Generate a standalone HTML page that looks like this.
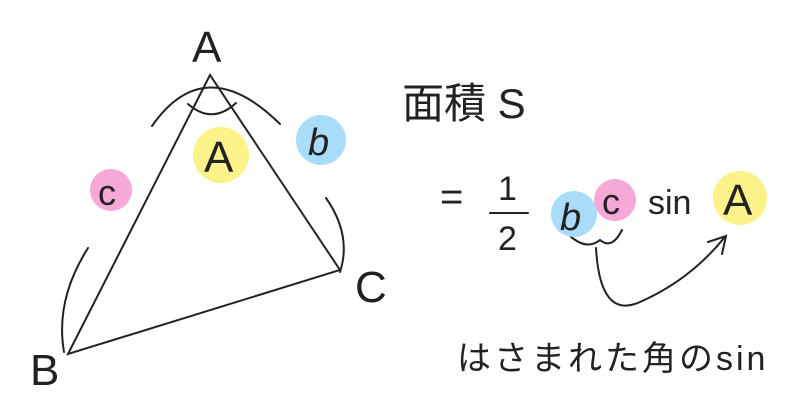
<!DOCTYPE html>
<html><head><meta charset="utf-8"><style>
html,body{margin:0;padding:0;background:#fff;}
svg{display:block;}
text{font-family:"Liberation Sans","Noto Sans CJK JP",sans-serif;fill:#222;}
</style></head><body>
<svg width="797" height="418" viewBox="0 0 797 418" xmlns="http://www.w3.org/2000/svg">
<g fill="none" stroke="#222" stroke-width="2" stroke-linecap="round">
<path d="M210 75 L68 354 L340 270 Z"/>
<path d="M152 126 Q205 50 280 124"/>
<path d="M188 104 Q212 125 236 103"/>
<path d="M88 248 Q55 300 64 352"/>
<path d="M326 198 Q352 235 340 272"/>
<path d="M490 213 L528 213"/>
<path d="M566 232 Q585 252 600 240 Q612 250 622 230"/>
<path d="M596 248 Q600 320 640 302 Q690 280 724 238"/>
<path d="M708 242 L726 236 L722 254"/>
</g>
<circle cx="221" cy="155" r="28" fill="#fcf28a"/>
<circle cx="111" cy="190" r="21" fill="#f6a9d6"/>
<circle cx="321" cy="140" r="25" fill="#a9dcf8"/>
<circle cx="574" cy="214" r="23" fill="#a9dcf8"/>
<circle cx="615" cy="200" r="21" fill="#f6a9d6"/>
<circle cx="740" cy="198" r="27" fill="#fcf28a"/>
<text x="192" y="62" font-size="44">A</text>
<text x="30" y="385" font-size="44">B</text>
<text x="355" y="302" font-size="44">C</text>
<text x="204" y="172" font-size="44">A</text>
<text x="98" y="205" font-size="36">c</text>
<text x="308" y="155" font-size="38" font-style="italic">b</text>
<text x="402" y="118" font-size="42">面積 S</text>
<text x="440" y="210" font-size="40">=</text>
<text x="498" y="200" font-size="34">1</text>
<text x="498" y="250" font-size="34">2</text>
<text x="560" y="230" font-size="38" font-style="italic">b</text>
<text x="602" y="214" font-size="36">c</text>
<text x="648" y="214" font-size="34">sin</text>
<text x="723" y="215" font-size="44">A</text>
<text x="457" y="370" font-size="34" letter-spacing="3">はさまれた角のsin</text>
</svg>
</body></html>
